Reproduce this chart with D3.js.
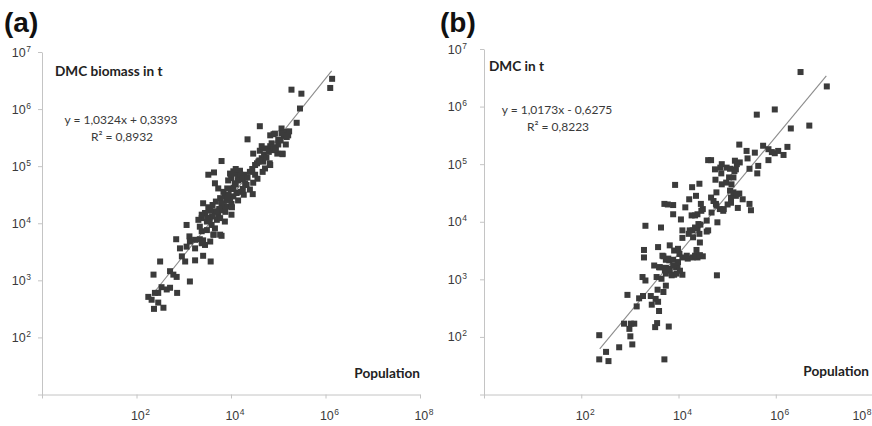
<!DOCTYPE html>
<html><head><meta charset="utf-8">
<script src="https://cdn.jsdelivr.net/npm/d3@7"></script>
<style>body{margin:0;background:#fff}svg{display:block}</style>
</head><body><svg id="c" width="872" height="426"></svg>
<script>
// ---- data (log10 values) ----
const xTickExp = [0, 2, 4, 6, 8];
const xLabelExp = [2, 4, 6, 8];
const yTickExp = [1, 2, 3, 4, 5, 6, 7];
const yLabelExp = [2, 3, 4, 5, 6, 7];

const panelLabels = ["(a)", "(b)"];
const yTitles = ["DMC biomass in t", "DMC in t"];
const xTitle = "Population";
const equations = ["y = 1,0324x + 0,3393", "y = 1,0173x - 0,6275"];
const r2Labels = ["R² = 0,8932", "R² = 0,8223"];
const slopes = [1.0324, 1.0173];
const intercepts = [0.3393, -0.6275];
const fitRangeA = [2.35, 6.13];
const fitRangeB = [2.38, 7.04];

const logPopA = [6.14,6.10,5.28,5.49,5.46,5.39,4.61,5.07,5.16,5.23,5.11,5.18,4.90,4.35,5.16,5.09,4.82,4.68,
4.83,4.93,5.07,5.21,4.86,5.00,4.47,4.61,4.72,4.83,4.91,4.98,5.09,4.65,4.58,4.51,4.83,4.72,4.67,3.80,3.52,3.64,
4.51,4.56,4.47,3.66,3.98,4.05,4.12,4.19,4.28,4.01,3.94,4.08,4.15,4.23,4.33,4.40,4.46,3.73,3.84,3.92,3.87,3.77,
3.68,3.61,3.52,3.56,3.66,3.73,3.80,3.91,4.01,3.98,4.05,4.12,4.20,4.27,3.41,3.45,3.38,3.49,3.59,3.66,3.70,3.77,
3.87,4.01,3.38,3.49,3.63,3.80,
3.06,3.31,3.38,3.34,2.84,2.92,3.12,3.13,3.24,3.34,3.41,3.63,3.77,3.56,3.45,3.38,3.24,3.06,2.50,2.96,3.03,3.24,
3.41,3.57,2.36,2.71,2.78,2.85,3.13,2.53,2.64,2.71,2.86,2.46,2.39,2.25,2.32,2.46,2.57,2.37,
3.90,3.95,4.00,4.05,4.10,4.15,4.20,4.25,4.30,4.35,3.85,3.80,3.75,3.70,3.60,3.55,3.50,4.40,4.45,4.55,4.60,4.70,
4.75,4.80,4.90,4.95,5.00,5.05,4.65,4.10,4.00,3.92,3.88,4.02,4.15,4.25];
const logDmcA = [6.53,6.37,6.34,6.27,6.01,5.76,5.70,5.66,5.60,5.61,5.53,5.51,5.56,5.47,5.38,5.22,5.05,5.08,
5.54,5.57,5.58,5.54,5.40,5.46,5.22,5.27,5.31,5.35,5.28,5.22,5.21,5.14,5.08,5.02,5.02,4.96,4.90,5.09,4.85,4.89,
4.85,4.78,4.71,4.70,4.87,4.91,4.87,4.92,4.85,4.79,4.75,4.70,4.75,4.77,4.67,4.59,4.51,4.61,4.55,4.61,4.47,4.44,
4.38,4.32,4.28,4.22,4.21,4.15,4.23,4.29,4.34,4.41,4.47,4.53,4.55,4.50,4.35,4.18,4.09,4.03,3.97,3.91,4.06,4.09,
4.03,4.15,3.86,3.88,3.80,3.78,
3.97,4.06,4.15,3.94,3.72,3.56,3.77,3.68,3.71,3.72,3.70,3.80,3.80,3.68,3.62,3.65,3.56,3.59,3.33,3.42,3.33,3.35,
3.43,3.33,3.10,3.16,3.10,3.06,2.98,2.88,2.84,2.87,2.78,2.78,2.78,2.71,2.66,2.61,2.52,2.50,
4.40,4.50,4.60,4.62,4.68,4.80,4.85,4.78,4.70,4.80,4.30,4.35,4.25,4.20,4.12,4.05,4.10,4.90,4.95,5.05,5.10,5.20,
5.15,5.25,5.33,5.30,5.38,5.45,5.35,4.95,4.85,4.45,4.20,4.28,4.40,4.60];

const logPopB = [6.51,7.05,5.98,5.61,6.31,6.69,5.25,5.40,5.57,5.74,5.85,5.92,5.98,6.05,6.16,6.24,5.85,5.42,5.26,
5.46,5.64,5.62,4.61,4.67,4.88,4.76,4.89,5.04,4.98,5.15,5.18,5.13,3.93,4.43,4.28,4.14,4.22,4.46,4.36,4.39,4.50,
3.71,3.78,3.89,3.89,4.05,3.32,3.64,4.08,4.21,4.29,4.39,4.45,4.58,4.30,4.43,4.80,4.93,5.01,5.08,5.18,5.25,5.32,
5.22,5.46,5.49,5.08,4.77,4.67,3.29,3.29,3.58,3.67,3.74,3.81,3.91,4.02,4.08,4.19,4.29,4.39,4.50,3.50,3.60,3.74,
3.81,3.95,3.74,3.91,4.08,3.98,4.79,3.26,3.32,2.95,3.19,3.27,3.14,3.43,3.53,3.58,3.45,3.60,3.74,3.69,3.57,2.88,
3.02,3.09,2.99,3.01,3.05,3.56,3.52,3.80,2.78,2.37,2.51,2.37,2.56,3.71,
4.75,4.89,4.86,4.99,5.06,5.16,5.20,5.09,5.06,5.13,5.20,4.78,4.72,4.78,4.85,4.92,4.27,4.34,4.47,4.68,4.58,4.41,
4.34,4.23,4.61,4.08,4.44,4.37,3.82,3.99,4.17,4.34,4.44,3.69,3.79,3.89,3.99,3.62,3.72,3.82,3.89,4.03,3.86,3.96,
3.55,3.65];
const logDmcB = [6.60,6.35,5.95,5.86,5.62,5.67,5.34,5.23,5.20,5.32,5.26,5.21,5.19,5.23,5.16,5.30,5.07,5.10,5.03,
4.92,4.97,4.84,5.07,5.07,4.84,4.73,4.65,4.77,4.68,4.88,4.91,4.77,4.64,4.66,4.60,4.25,4.39,4.31,4.45,4.13,4.22,
4.31,4.30,4.29,4.13,4.04,3.93,3.90,3.85,3.79,3.85,3.89,3.95,3.83,3.73,3.79,3.99,4.22,4.30,4.42,4.45,4.49,4.39,
4.24,4.31,4.20,4.33,4.31,4.42,3.51,3.38,3.56,3.41,3.34,3.33,3.50,3.44,3.38,3.36,3.38,3.38,3.40,3.24,3.21,3.20,
3.15,3.21,3.10,3.08,3.08,3.24,3.07,3.04,2.98,2.73,2.67,2.71,2.53,2.71,2.66,2.61,2.56,2.45,2.89,2.78,2.82,2.23,
2.23,2.23,2.14,2.01,1.87,2.24,2.17,2.18,1.82,2.03,1.74,1.61,1.58,1.61,
4.91,5.00,4.94,4.94,4.92,5.06,5.00,4.65,4.54,4.51,4.48,4.51,4.36,4.28,4.22,4.19,4.11,4.11,4.19,4.16,4.02,3.96,
3.90,3.85,3.85,3.72,3.64,3.51,3.59,3.53,3.41,3.41,3.42,3.40,3.36,3.34,3.30,3.21,3.16,3.18,3.24,3.15,3.07,3.10,
3.04,3.01];

// ---- layout ----
const svg = d3.select("#c");
const W = 872;
const panels = [
  {xr: [42, 420], yr: [394.5, 52], lx: logPopA, ly: logDmcA, fit: fitRangeA,
   labX: 4, ylabEnd: 31, titleX: 55, titleY: 76, eqX: 121, eqY: 124, popEnd: 420, popY: 378},
  {xr: [484, 873], yr: [394.5, 49], lx: logPopB, ly: logDmcB, fit: fitRangeB,
   labX: 440, ylabEnd: 467, titleX: 489, titleY: 71, eqX: 557, eqY: 114, popEnd: 869, popY: 376}
];
const axisColor = "#c4c4c4";
const textColor = "#3a3a3a";
const markColor = "#3b3b3b";
const tickFont = "Liberation Sans, Arial, sans-serif";

function powerLabel(sel) {
  sel.each(function(d) {
    const t = d3.select(this);
    t.append("tspan").text("10");
    t.append("tspan").attr("dx", 0.5).attr("dy", -5).attr("font-size", 8.5).text(d);
  });
}

panels.forEach((p, i) => {
  const x = d3.scaleLog().domain([1, 1e8]).range(p.xr);
  const y = d3.scaleLog().domain([10, 1e7]).range(p.yr);
  const g = svg.append("g");

  // axes
  const ax = g.append("g").attr("transform", `translate(0,${p.yr[0]})`)
    .call(d3.axisBottom(x).tickValues(xTickExp.map(e => 10 ** e)).tickSize(4).tickSizeOuter(0).tickFormat(""));
  const ay = g.append("g").attr("transform", `translate(${p.xr[0]},0)`)
    .call(d3.axisLeft(y).tickValues(yTickExp.map(e => 10 ** e)).tickSize(4).tickSizeOuter(0).tickFormat(""));
  [ax, ay].forEach(a => { a.selectAll("path,line").attr("stroke", axisColor).attr("stroke-width", 1); });

  // x tick labels (kept inside the page at the right edge)
  g.selectAll(".xl").data(xLabelExp).join("text")
    .attr("x", d => Math.min(x(10 ** d) + 4, W - 10)).attr("y", p.yr[0] + 25)
    .attr("text-anchor", "middle").attr("font-family", tickFont)
    .attr("font-size", 12.5).attr("fill", textColor)
    .call(powerLabel);
  // y tick labels
  g.selectAll(".yl").data(yLabelExp).join("text")
    .attr("x", p.ylabEnd).attr("y", d => y(10 ** d) + 4.5)
    .attr("text-anchor", "end").attr("font-family", tickFont)
    .attr("font-size", 12.5).attr("fill", textColor)
    .call(powerLabel);

  // trend line
  const fit = p.fit.map(e => [10 ** e, 10 ** (slopes[i] * e + intercepts[i])]);
  g.append("path").datum(fit)
    .attr("d", d3.line().x(d => x(d[0])).y(d => y(d[1])))
    .attr("stroke", "#8c8c8c").attr("stroke-width", 1.1).attr("fill", "none");

  // points
  const pts = p.lx.map((v, k) => [10 ** v, 10 ** p.ly[k]]);
  g.selectAll(".pt").data(pts).join("rect")
    .attr("x", d => x(d[0]) - 3).attr("y", d => y(d[1]) - 3)
    .attr("width", 6).attr("height", 6).attr("fill", markColor);

  // texts
  g.append("text").attr("x", p.labX).attr("y", 32)
    .attr("font-family", tickFont).attr("font-weight", "bold")
    .attr("font-size", 28).attr("fill", "#111").text(panelLabels[i]);
  g.append("text").attr("x", p.titleX).attr("y", p.titleY)
    .attr("font-family", "Lato, sans-serif").attr("font-weight", "bold")
    .attr("font-size", 13.6).attr("fill", "#222").text(yTitles[i]);
  g.append("text").attr("x", p.popEnd).attr("y", p.popY).attr("text-anchor", "end")
    .attr("font-family", "Lato, sans-serif").attr("font-weight", "bold")
    .attr("font-size", 13.6).attr("fill", "#222").text(xTitle);
  g.append("text").attr("x", p.eqX).attr("y", p.eqY).attr("text-anchor", "middle")
    .attr("font-family", "Lato, sans-serif").attr("font-size", 12)
    .attr("fill", textColor).text(equations[i]);
  g.append("text").attr("x", p.eqX + 1).attr("y", p.eqY + 17).attr("text-anchor", "middle")
    .attr("font-family", "Lato, sans-serif").attr("font-size", 12)
    .attr("fill", textColor).text(r2Labels[i]);
});
</script>
</body></html>
